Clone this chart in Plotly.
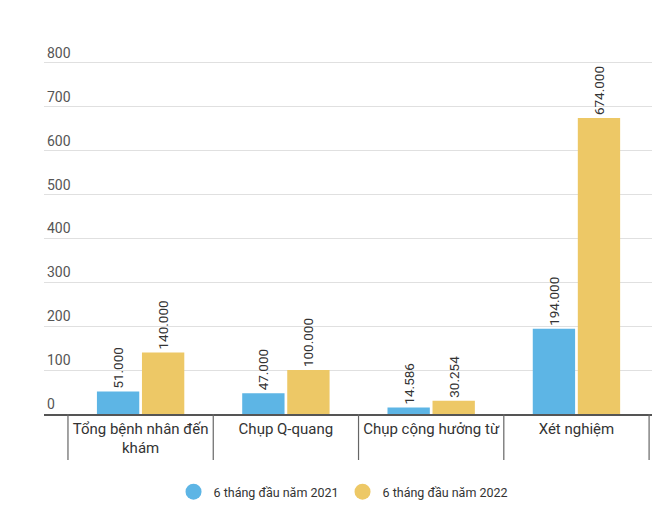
import plotly.graph_objects as go

categories = ["Tổng bệnh nhân đến<br>khám", "Chụp Q-quang", "Chụp cộng hưởng từ", "Xét nghiệm"]
series_names = ["6 tháng đầu năm 2021", "6 tháng đầu năm 2022"]
values_2021 = [51.0, 47.0, 14.586, 194.0]
values_2022 = [140.0, 100.0, 30.254, 674.0]
labels_2021 = ["51.000", "47.000", "14.586", "194.000"]
labels_2022 = ["140.000", "100.000", "30.254", "674.000"]
colors = ["#5db5e5", "#edc866"]

boundaries = [i - 0.5 for i in range(len(categories) + 1)]
xr = [-0.665, 3.52]
yr = [0, 870]

# page body has an 8px margin; compensate so the figure lands where the reference is
W, H = 652, 509
ML, MR, MT, MB = 36, 8, 24, 103
plot_h = H - MT - MB

fig = go.Figure()
for name, vals, labs, col in zip(series_names, [values_2021, values_2022],
                                 [labels_2021, labels_2022], colors):
    fig.add_trace(go.Bar(
        x=categories, y=vals, name=name, marker_color=col, marker_line_width=0,
        text=labs, textposition="outside", textangle=-90,
        textfont=dict(family="Roboto", size=13.5, color="#333333"),
        cliponaxis=False, showlegend=False,
    ))
    fig.add_trace(go.Scatter(
        x=[None], y=[None], mode="markers", name=name,
        marker=dict(symbol="circle", size=16, color=col),
        showlegend=True,
    ))

for b in boundaries:
    fig.add_shape(type="line", xref="x", yref="paper", x0=b, x1=b, y0=0, y1=-46 / plot_h,
                  line=dict(color="#666666", width=1.2))

fig.update_layout(
    width=W, height=H,
    margin=dict(l=ML, r=MR, t=MT, b=MB),
    paper_bgcolor="white", plot_bgcolor="white",
    barmode="group", bargap=0.38, bargroupgap=0.06,
    font=dict(family="Roboto", size=13, color="#333333"),
    showlegend=True,
    legend=dict(orientation="h", x=0.491, xanchor="center", y=-78 / plot_h, yanchor="middle",
                font=dict(size=12.5, color="#333333"), entrywidth=124),
    uniformtext=dict(minsize=13, mode="show"),
)
fig.update_xaxes(
    range=xr, ticks="", automargin=False,
    showline=True, linecolor="#555555", linewidth=1.5,
    showgrid=False, tickfont=dict(size=15, color="#333333"),
)
fig.update_yaxes(
    range=yr, tickvals=list(range(0, 801, 100)), ticklabelposition="inside top", automargin=False,
    showgrid=True, gridcolor="#e0e0e0", gridwidth=1, zeroline=False,
    tickfont=dict(size=14, color="#555555"), ticks="",
)

fig.write_html("out.html")
